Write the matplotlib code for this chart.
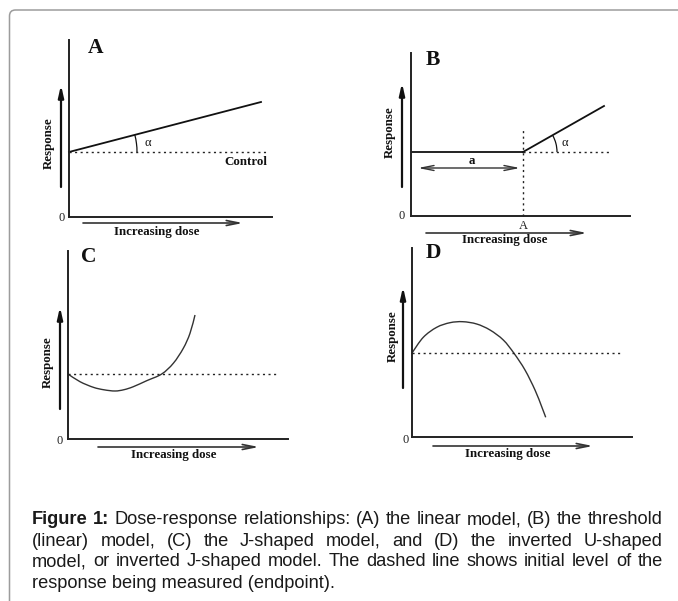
import math
import matplotlib
matplotlib.use("Agg")
import matplotlib.pyplot as plt
from matplotlib.patches import Arc, FancyBboxPatch, PathPatch
from matplotlib.path import Path

FW, FH = 678, 601
DPI = 100

# ---------------- data (units: arbitrary dose / response units) -------------
# Panel A: linear model
a_dose = [0, 192]
a_resp = [65, 115]
a_control = 65
a_dose_max = 197

# Panel B: threshold (linear) model
b_flat_dose = [0, 112]
b_flat_resp = [64, 64]
b_rise_dose = [112, 193]
b_rise_resp = [64, 110]
b_threshold = 112
b_control = 64
b_dose_max = 198

# Panel C: J-shaped model
c_dose = [0, 12, 25.3, 36, 47, 56, 65.3, 78.7, 93.7, 105.3, 115.3, 122, 127]
c_resp = [65, 57.3, 51.7, 49.2, 48, 49.3, 52.3, 58.3, 65, 75.7, 90.7, 105.7, 124]
c_control = 65
c_dose_max = 210

# Panel D: inverted U-shaped model
d_dose = [0, 11.3, 24.7, 38, 50.7, 64.7, 78, 91.3, 102, 113, 123, 129.7, 133.7]
d_resp = [84, 99.7, 109.7, 114.3, 115.3, 113, 107, 97, 83.7, 67, 47, 30.3, 19.7]
d_control = 84
d_dose_max = 209

caption_lines = [
    "Figure 1: Dose-response relationships: (A) the linear model, (B) the threshold",
    "(linear) model, (C) the J-shaped model, and (D) the inverted U-shaped",
    "model, or inverted J-shaped model. The dashed line shows initial level of the",
    "response being measured (endpoint).",
]

# ---------------- styles ----------------------------------------------------
SERIF = "Liberation Serif"
SANS = "Liberation Sans"
INK = "#111111"
LBL = 9.3

fig = plt.figure(figsize=(FW / DPI, FH / DPI), dpi=DPI)
fig.patch.set_facecolor("white")

# rounded frame (in inches, origin bottom-left)
frame = FancyBboxPatch((9.5 / DPI, -0.5), 8.0, (FH - 10) / DPI + 0.5,
                       boxstyle="round,pad=0,rounding_size=0.06",
                       transform=fig.dpi_scale_trans, facecolor="none",
                       edgecolor="#9c9c9c", linewidth=1.1, clip_on=False)
fig.patches.append(frame)


def smooth_path(xs, ys):
    """Catmull-Rom curve through the given points as cubic Bezier segments."""
    pts = list(zip(xs, ys))
    verts = [pts[0]]
    codes = [Path.MOVETO]
    n = len(pts)
    for i in range(n - 1):
        p0 = pts[i - 1] if i > 0 else pts[i]
        p1 = pts[i]
        p2 = pts[i + 1]
        p3 = pts[i + 2] if i + 2 < n else pts[i + 1]
        c1 = (p1[0] + (p2[0] - p0[0]) / 6, p1[1] + (p2[1] - p0[1]) / 6)
        c2 = (p2[0] - (p3[0] - p1[0]) / 6, p2[1] - (p3[1] - p1[1]) / 6)
        verts += [c1, c2, p2]
        codes += [Path.CURVE4] * 3
    return Path(verts, codes)


def panel(x0, y0, W, H, letter, letter_xy, resp_x, resp_y, resp_txt_xy,
          zero_xy, dose_arrow, dose_txt_xy):
    ax = fig.add_axes([x0 / FW, 1 - y0 / FH, W / FW, H / FH])
    ax.set_xlim(0, W)
    ax.set_ylim(0, H)
    for s in ("top", "right"):
        ax.spines[s].set_visible(False)
    for s in ("left", "bottom"):
        ax.spines[s].set_linewidth(1.4)
        ax.spines[s].set_color("#222222")
    ax.set_xticks([])
    ax.set_yticks([])
    ax.patch.set_alpha(0)
    ax.text(*letter_xy, letter, family=SERIF, weight="bold", fontsize=15.5,
            ha="center", va="center", color=INK, clip_on=False)
    ax.annotate("", xy=(resp_x, resp_y[1]), xytext=(resp_x, resp_y[0]),
                arrowprops=dict(arrowstyle="-|>,head_length=0.7,head_width=0.16",
                                lw=1.6, color=INK, shrinkA=0, shrinkB=0),
                annotation_clip=False)
    ax.text(*resp_txt_xy, "Response", family=SERIF, weight="bold", fontsize=LBL,
            rotation=90, ha="center", va="center", color=INK, clip_on=False)
    ax.text(*zero_xy, "0", family=SERIF, fontsize=9, ha="center", va="center",
            color="#222222", clip_on=False)
    (dx0, dx1, dy) = dose_arrow
    ax.annotate("", xy=(dx1, dy), xytext=(dx0, dy),
                arrowprops=dict(arrowstyle="->,head_length=0.9,head_width=0.18",
                                lw=1.2, color="#333333", shrinkA=0, shrinkB=0),
                annotation_clip=False)
    ax.text(*dose_txt_xy, "Increasing dose", family=SERIF, weight="bold",
            fontsize=LBL, ha="center", va="center", color=INK, clip_on=False)
    return ax


DOT = dict(color="#222222", lw=1.0, linestyle=(0, (1.5, 2.5)), clip_on=False)

# ---- Panel A
axA = panel(69, 217, 203, 177, "A", (27, 169), -8, (30, 132), (-20, 74),
            (-7, -1), (14, 174, -6), (88, -15))
axA.plot(a_dose, a_resp, color=INK, lw=1.3, clip_on=False)
axA.plot([0, a_dose_max], [a_control, a_control], **DOT)
axA.text(177, 55, "Control", family=SERIF, weight="bold", fontsize=LBL,
         ha="center", va="center", color=INK)
angA = math.degrees(math.atan2(a_resp[1] - a_resp[0], a_dose[1] - a_dose[0]))
axA.add_patch(Arc((a_dose[0], a_resp[0]), 136, 136, theta1=0, theta2=angA,
                  color=INK, lw=0.9))
axA.text(79, 74, "α", family=SERIF, fontsize=9, ha="center", va="center",
         color=INK)

# ---- Panel B
axB = panel(411, 216, 219, 163, "B", (22, 156), -9, (29, 133), (-21, 84),
            (-9, 0), (15, 176, -17), (94, -24))
axB.plot(b_flat_dose, b_flat_resp, color=INK, lw=1.3)
axB.plot(b_rise_dose, b_rise_resp, color=INK, lw=1.3)
axB.plot([b_threshold, b_threshold], [0, 86], **DOT)
axB.plot([b_threshold, b_dose_max], [b_control, b_control], **DOT)
angB = math.degrees(math.atan2(b_rise_resp[1] - b_rise_resp[0],
                               b_rise_dose[1] - b_rise_dose[0]))
axB.add_patch(Arc((b_threshold, b_control), 68, 68, theta1=0, theta2=angB,
                  color=INK, lw=0.9))
axB.text(154, 73, "α", family=SERIF, fontsize=9, ha="center", va="center",
         color=INK)
axB.annotate("", xy=(109, 48), xytext=(7, 48),
             arrowprops=dict(arrowstyle="<->,head_length=0.9,head_width=0.18",
                             lw=1.0, color="#333333", shrinkA=0, shrinkB=0))
axB.text(61, 55, "a", family=SERIF, weight="bold", fontsize=LBL, ha="center",
         va="center", color=INK)
axB.text(b_threshold, -10, "A", family=SERIF, fontsize=9, ha="center",
         va="center", color="#222222", clip_on=False)

# ---- Panel C
axC = panel(68, 439, 220, 188, "C", (21, 182), -8, (30, 132), (-20, 77),
            (-8, -2), (30, 191, -8), (106, -16))
axC.add_patch(PathPatch(smooth_path(c_dose, c_resp), facecolor="none",
                        edgecolor="#333333", lw=1.0))
axC.plot([0, c_dose_max], [c_control, c_control], **DOT)

# ---- Panel D
axD = panel(412, 437, 220, 189, "D", (21, 184), -9, (49, 150), (-19, 101),
            (-6, -3), (21, 181, -9), (96, -17))
axD.add_patch(PathPatch(smooth_path(d_dose, d_resp), facecolor="none",
                        edgecolor="#333333", lw=1.0))
axD.plot([0, d_dose_max], [d_control, d_control], **DOT)

# ---------------- justified caption ----------------------------------------
renderer = fig.canvas.get_renderer()
LEFT, RIGHT = 32.0, 662.5
baselines = [524.5, 545.5, 566.5, 587.5]


def word_width(w, bold, fs):
    t = fig.text(0, 0, w, family=SANS, fontsize=fs,
                 weight="bold" if bold else "normal")
    wd = t.get_window_extent(renderer).width
    t.remove()
    return wd


def line_parts(li, fs):
    words = caption_lines[li].split(" ")
    bolds = [li == 0 and i < 2 for i in range(len(words))]
    widths = [word_width(w, b, fs) for w, b in zip(words, bolds)]
    return words, bolds, widths


# the first line of the justified paragraph is set almost at natural spacing
base_fs = 11.0
w0, b0, wd0 = line_parts(0, base_fs)
sp0 = word_width("a a", False, base_fs) - 2 * word_width("a", False, base_fs)
nat0 = sum(wd0) + sp0 * (len(w0) - 1)
CAP_FS = base_fs * (RIGHT - LEFT - 6) / nat0

space_w = word_width("a a", False, CAP_FS) - 2 * word_width("a", False, CAP_FS)
for li in range(len(caption_lines)):
    yb = FH - baselines[li]
    last = li == len(caption_lines) - 1
    if last:
        fig.text(LEFT / DPI, yb / DPI, caption_lines[li], family=SANS,
                 fontsize=CAP_FS, color="#1a1a1a",
                 transform=fig.dpi_scale_trans, ha="left", va="baseline")
        continue
    words, bolds, widths = line_parts(li, CAP_FS)
    gap = (RIGHT - LEFT - sum(widths)) / (len(words) - 1)
    x = LEFT
    for w, b, wd in zip(words, bolds, widths):
        fig.text(x / DPI, yb / DPI, w, family=SANS, fontsize=CAP_FS,
                 weight="bold" if b else "normal", color="#1a1a1a",
                 transform=fig.dpi_scale_trans, ha="left", va="baseline")
        x += wd + gap

fig.savefig("out.png", dpi=DPI, facecolor="white")
